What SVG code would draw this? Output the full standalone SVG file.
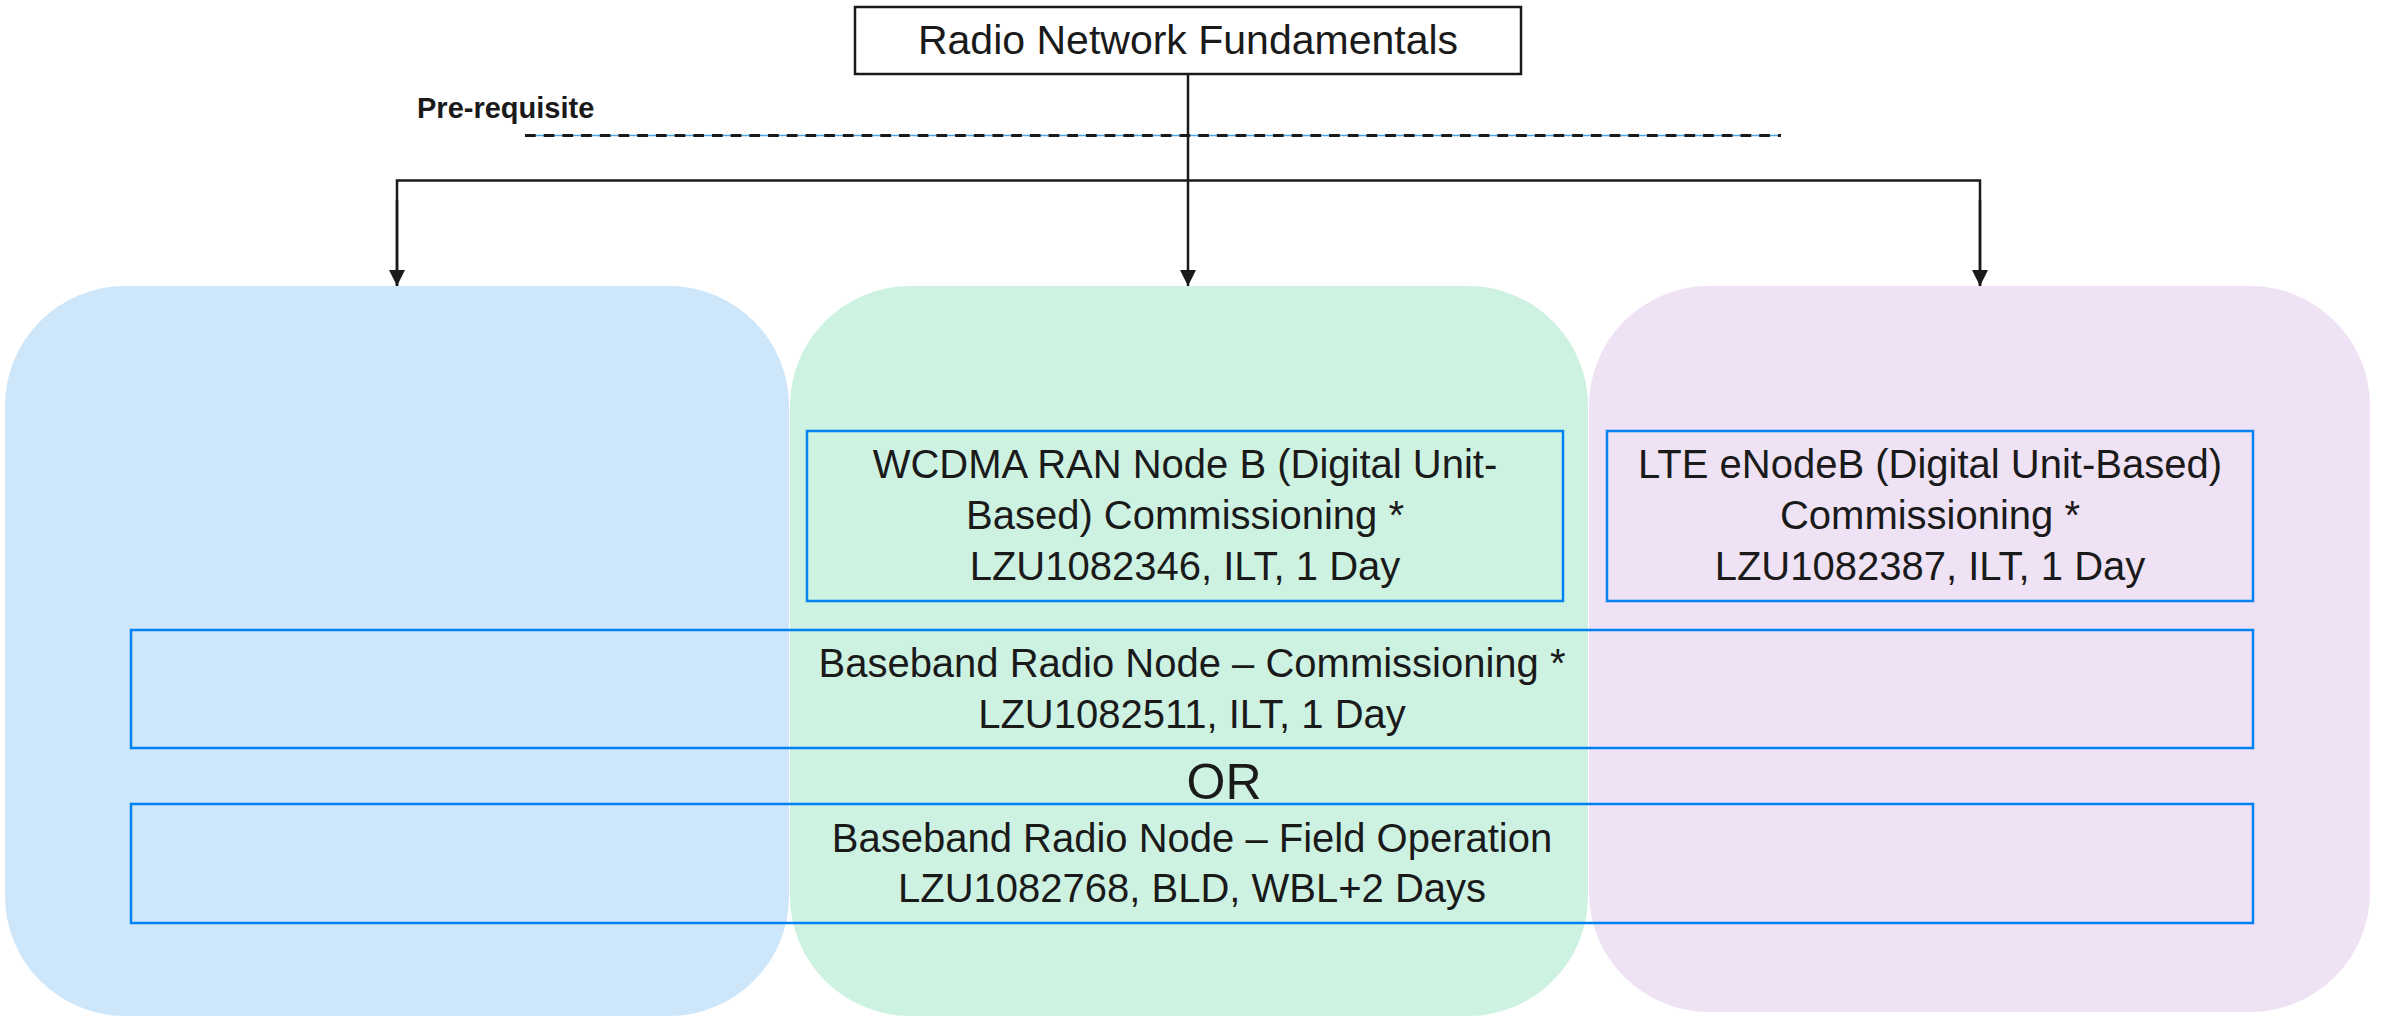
<svg xmlns="http://www.w3.org/2000/svg" width="2384" height="1017" viewBox="0 0 2384 1017">
  <defs>
    <style>
      .t { font-family: "Liberation Sans", Arial, sans-serif; font-size: 40px; fill: #1a1a1a; text-anchor: middle; }
      .lane { stroke: none; }
      .box { fill: none; stroke: #0082f0; stroke-width: 2.5; }
      .conn { fill: none; stroke: #1a1a1a; stroke-width: 2.5; }
    </style>
    <marker id="arr" viewBox="0 0 16 16" refX="16" refY="8" markerWidth="16" markerHeight="16" markerUnits="userSpaceOnUse" orient="auto">
      <path d="M0,0 L16,8 L0,16 Z" fill="#1a1a1a"/>
    </marker>
  </defs>

  <rect width="2384" height="1017" fill="#ffffff"/>

  <g id="lanes">
    <rect id="lane-blue" class="lane" x="5" y="286" width="784" height="730" rx="120" ry="120" fill="#cde6fa"/>
    <rect id="lane-green" class="lane" x="790" y="286" width="798" height="730" rx="120" ry="120" fill="#cef2e2"/>
    <rect id="lane-purple" class="lane" x="1589" y="286" width="781" height="726" rx="120" ry="120" fill="#eee2f4"/>
  </g>

  <g id="prereq">
    <text x="417" y="118" style="font-family: 'Liberation Sans', Arial, sans-serif; font-size: 29px; font-weight: bold; fill: #1a1a1a;">Pre-requisite</text>
    <line x1="525" y1="135.5" x2="1781" y2="135.5" stroke="#4da6ea" stroke-width="1.5"/>
    <line x1="525" y1="135.5" x2="1781" y2="135.5" stroke="#1a1a1a" stroke-width="3" stroke-dasharray="10.7 8"/>
  </g>

  <g id="connectors">
    <path class="conn" d="M1188,74 L1188,286" marker-end="url(#arr)"/>
    <path class="conn" d="M397,286 L397,180.5 L1980,180.5 L1980,286" />
    <path class="conn" d="M397,200 L397,286" marker-end="url(#arr)"/>
    <path class="conn" d="M1980,200 L1980,286" marker-end="url(#arr)"/>
  </g>

  <g id="node-rnf">
    <rect x="855" y="7" width="666" height="67" fill="#ffffff" stroke="#1a1a1a" stroke-width="2.5"/>
    <text class="t" x="1188" y="54" style="font-size:41px">Radio Network Fundamentals</text>
  </g>

  <g id="node-wcdma">
    <rect class="box" x="807" y="431" width="756" height="170"/>
    <text class="t" x="1185" y="478">WCDMA RAN Node B (Digital Unit-</text>
    <text class="t" x="1185" y="529">Based) Commissioning *</text>
    <text class="t" x="1185" y="580">LZU1082346, ILT, 1 Day</text>
  </g>

  <g id="node-lte">
    <rect class="box" x="1607" y="431" width="646" height="170"/>
    <text class="t" x="1930" y="478">LTE eNodeB (Digital Unit-Based)</text>
    <text class="t" x="1930" y="529">Commissioning *</text>
    <text class="t" x="1930" y="580">LZU1082387, ILT, 1 Day</text>
  </g>

  <g id="node-bb-comm">
    <rect class="box" x="131" y="630" width="2122" height="118"/>
    <text class="t" x="1192" y="677">Baseband Radio Node – Commissioning *</text>
    <text class="t" x="1192" y="728">LZU1082511, ILT, 1 Day</text>
  </g>

  <g id="or-label">
    <text class="t" x="1224" y="799" style="font-size:50px">OR</text>
  </g>

  <g id="node-bb-field">
    <rect class="box" x="131" y="804" width="2122" height="119"/>
    <text class="t" x="1192" y="852">Baseband Radio Node – Field Operation</text>
    <text class="t" x="1192" y="902">LZU1082768, BLD, WBL+2 Days</text>
  </g>
</svg>
